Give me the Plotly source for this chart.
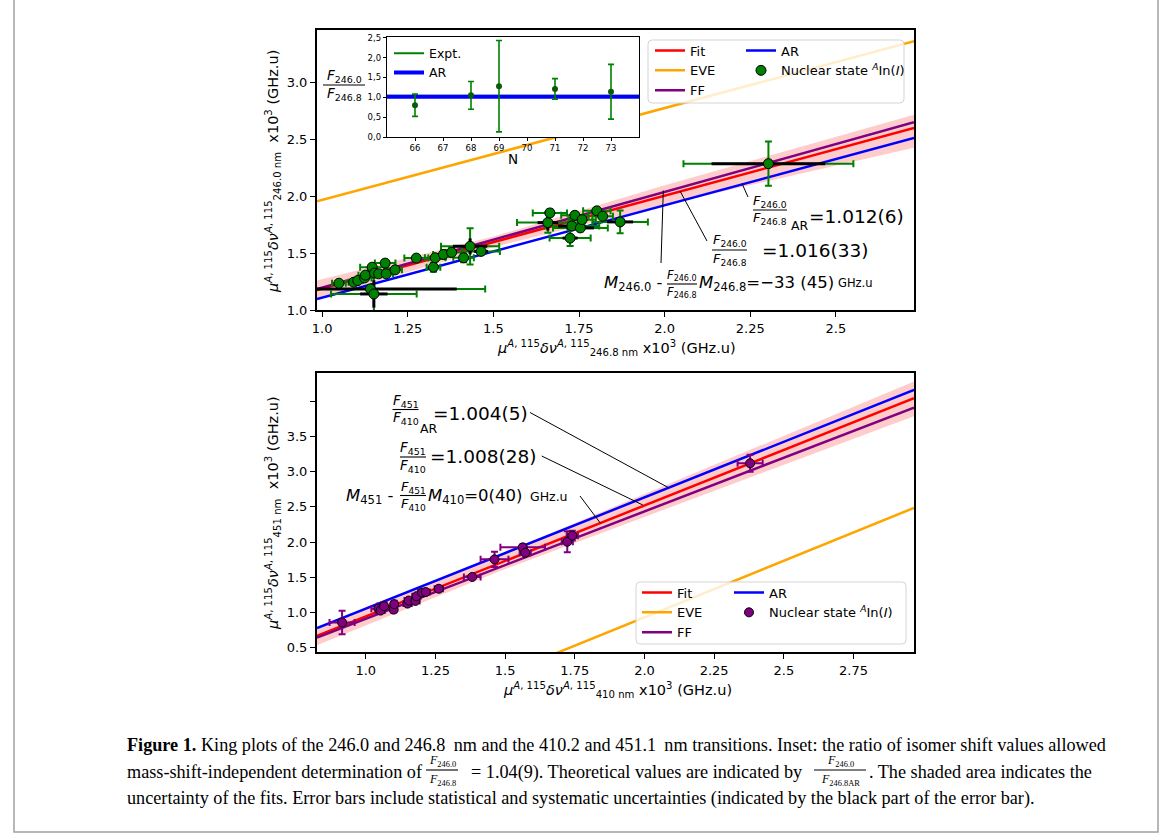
import plotly.graph_objects as go

W, H = 1171, 834
FONT = "DejaVu Sans"
SERIF = "Liberation Serif"

# ---------------- data: top panel (246.0 nm vs 246.8 nm) ----------------
top_x = [1.049, 1.092, 1.104, 1.124, 1.126, 1.146, 1.153, 1.165, 1.184, 1.187, 1.213,
         1.141, 1.151, 1.275, 1.325, 1.330, 1.354, 1.378, 1.413, 1.432, 1.464,
         1.659, 1.665, 1.724, 1.729, 1.738, 1.754, 1.759, 1.802, 1.819, 1.870, 2.303]
top_y = [1.235, 1.244, 1.259, 1.282, 1.306, 1.376, 1.324, 1.318, 1.412, 1.318, 1.353,
         1.185, 1.141, 1.456, 1.376, 1.459, 1.488, 1.506, 1.459, 1.559, 1.515,
         1.768, 1.853, 1.632, 1.738, 1.832, 1.721, 1.794, 1.871, 1.824, 1.774, 2.286]
top_xerr = [0.020, 0.015, 0.015, 0.020, 0.020, 0.035, 0.020, 0.020, 0.030, 0.020, 0.020,
            0.335, 0.125, 0.035, 0.020, 0.030, 0.030, 0.030, 0.030, 0.085, 0.055,
            0.090, 0.050, 0.060, 0.080, 0.040, 0.080, 0.040, 0.040, 0.030, 0.081, 0.248]
top_xerr_sys = [0.006, 0.005, 0.005, 0.006, 0.006, 0.010, 0.006, 0.006, 0.010, 0.006, 0.006,
                0.252, 0.040, 0.010, 0.006, 0.010, 0.010, 0.010, 0.010, 0.050, 0.020,
                0.030, 0.015, 0.022, 0.040, 0.015, 0.040, 0.015, 0.015, 0.010, 0.038, 0.166]
top_yerr = [0.020, 0.020, 0.020, 0.025, 0.020, 0.025, 0.020, 0.020, 0.025, 0.020, 0.020,
            0.030, 0.150, 0.020, 0.040, 0.030, 0.040, 0.040, 0.040, 0.160, 0.030,
            0.090, 0.030, 0.070, 0.030, 0.030, 0.030, 0.030, 0.020, 0.020, 0.100, 0.195]
top_yerr_sys = [0.008, 0.008, 0.008, 0.010, 0.008, 0.010, 0.008, 0.008, 0.010, 0.008, 0.008,
                0.015, 0.120, 0.008, 0.015, 0.010, 0.015, 0.015, 0.015, 0.070, 0.010,
                0.070, 0.010, 0.020, 0.010, 0.010, 0.010, 0.010, 0.008, 0.008, 0.030, 0.030]

top_line_x = [0.985, 2.728]
top_fit_y = [1.176, 2.599]
top_eve_y = [1.954, 3.362]
top_ff_y = [1.185, 2.649]
top_ar_y = [1.097, 2.511]
top_band_x = [0.985, 1.5, 2.0, 2.728]
top_band_lo = [1.100, 1.552, 1.925, 2.425]
top_band_hi = [1.260, 1.645, 2.095, 2.715]

# ---------------- data: inset ----------------
inset_N = [66, 68, 69, 71, 73]
inset_ratio = [0.80, 1.05, 1.28, 1.21, 1.14]
inset_err = [0.28, 0.35, 1.15, 0.26, 0.69]
inset_line_N = [65, 74]
inset_expt = [1.04, 1.04]
inset_ar = [1.012, 1.012]

# ---------------- data: bottom panel (451 nm vs 410 nm) ----------------
bot_x = [0.915, 1.045, 1.053, 1.066, 1.100, 1.102, 1.150, 1.154, 1.178, 1.182,
         1.202, 1.215, 1.262, 1.382, 1.462, 1.563, 1.572, 1.723, 1.741, 2.379]
bot_y = [0.855, 1.052, 1.024, 1.088, 1.038, 1.116, 1.124, 1.167, 1.162, 1.229,
         1.280, 1.288, 1.335, 1.503, 1.753, 1.924, 1.848, 2.004, 2.090, 3.120]
bot_xerr = [0.045, 0.025, 0.015, 0.025, 0.010, 0.010, 0.015, 0.015, 0.015, 0.015,
            0.015, 0.015, 0.015, 0.030, 0.050, 0.080, 0.020, 0.020, 0.020, 0.045]
bot_yerr = [0.166, 0.030, 0.030, 0.060, 0.040, 0.050, 0.030, 0.030, 0.030, 0.030,
            0.030, 0.030, 0.030, 0.030, 0.110, 0.040, 0.030, 0.150, 0.070, 0.120]

bot_line_x = [0.825, 2.967]
bot_fit_y = [0.665, 4.047]
bot_eve_y = [-0.965, 2.486]
bot_ff_y = [0.640, 3.913]
bot_ar_y = [0.775, 4.166]
bot_band_x = [0.825, 1.5, 2.967]
bot_band_lo = [0.530, 1.615, 3.790]
bot_band_hi = [0.765, 1.855, 4.285]

top_xticks = [1.0, 1.25, 1.5, 1.75, 2.0, 2.25, 2.5]
top_xtick_text = ["1.0", "1.25", "1.5", "1.75", "2.0", "2.25", "2.5"]
top_yticks = [1.0, 1.5, 2.0, 2.5, 3.0]
top_ytick_text = ["1.0", "1.5", "2.0", "2.5", "3.0"]
bot_xticks = [1.0, 1.25, 1.5, 1.75, 2.0, 2.25, 2.5, 2.75]
bot_xtick_text = ["1.0", "1.25", "1.5", "1.75", "2.0", "2.25", "2.5", "2.75"]
bot_yticks = [0.5, 1.0, 1.5, 2.0, 2.5, 3.0, 3.5, 4.0]
bot_ytick_text = ["0.5", "1.0", "1.5", "2.0", "2.5", "3.0", "3.5", ""]
inset_xticks = [66, 67, 68, 69, 70, 71, 72, 73]
inset_xtick_text = ["66", "67", "68", "69", "70", "71", "72", "73"]
inset_yticks = [0.0, 0.5, 1.0, 1.5, 2.0, 2.5]
inset_ytick_text = ["0,0", "0,5", "1,0", "1,5", "2,0", "2,5"]

RED, BLUE, ORANGE, PURPLE, GREEN = "#ff0000", "#0000ff", "#ffa500", "#800080", "#008000"
BAND = "rgba(255,0,0,0.2)"


def X(px):
    return px / W


def Y(py):
    return 1 - py / H


fig = go.Figure()

# ---------- top panel ----------
fig.add_trace(go.Scatter(x=top_band_x, y=top_band_lo, mode="lines", line=dict(width=0, color="rgba(0,0,0,0)"),
                         showlegend=False, hoverinfo="skip", xaxis="x", yaxis="y"))
fig.add_trace(go.Scatter(x=top_band_x, y=top_band_hi, mode="lines", line=dict(width=0, color="rgba(0,0,0,0)"),
                         fill="tonexty", fillcolor=BAND, showlegend=False, hoverinfo="skip", xaxis="x", yaxis="y"))
fig.add_trace(go.Scatter(x=top_line_x, y=top_fit_y, mode="lines", name="Fit", line=dict(color=RED, width=2.5),
                         legend="legend", xaxis="x", yaxis="y"))
fig.add_trace(go.Scatter(x=top_line_x, y=top_eve_y, mode="lines", name="EVE", line=dict(color=ORANGE, width=2.5),
                         legend="legend", xaxis="x", yaxis="y"))
fig.add_trace(go.Scatter(x=top_line_x, y=top_ff_y, mode="lines", name="FF", line=dict(color=PURPLE, width=2.5),
                         legend="legend", xaxis="x", yaxis="y"))
fig.add_trace(go.Scatter(x=top_line_x, y=top_ar_y, mode="lines", name="AR", line=dict(color=BLUE, width=2.5),
                         legend="legend2", xaxis="x", yaxis="y"))
fig.add_trace(go.Scatter(x=top_x, y=top_y, mode="markers", marker=dict(size=2, color="rgba(0,0,0,0)"),
                         error_x=dict(type="data", array=top_xerr, color=GREEN, thickness=2, width=3.5),
                         error_y=dict(type="data", array=top_yerr, color=GREEN, thickness=2, width=3.5),
                         showlegend=False, hoverinfo="skip", xaxis="x", yaxis="y"))
fig.add_trace(go.Scatter(x=top_x, y=top_y, mode="markers", marker=dict(size=2, color="rgba(0,0,0,0)"),
                         error_x=dict(type="data", array=top_xerr_sys, color="black", thickness=3, width=0),
                         error_y=dict(type="data", array=top_yerr_sys, color="black", thickness=3, width=0),
                         showlegend=False, hoverinfo="skip", xaxis="x", yaxis="y"))
fig.add_trace(go.Scatter(x=top_x, y=top_y, mode="markers", name="Nuclear state <sup><i>A</i></sup>In(<i>I</i>)",
                         marker=dict(size=10, color=GREEN, line=dict(color="black", width=1)),
                         legend="legend2", xaxis="x", yaxis="y"))

# ---------- inset ----------
fig.add_trace(go.Scatter(x=inset_line_N, y=inset_expt, mode="lines", name="Expt.", line=dict(color=GREEN, width=2),
                         legend="legend3", xaxis="x3", yaxis="y3"))
fig.add_trace(go.Scatter(x=inset_line_N, y=inset_ar, mode="lines", name="AR", line=dict(color=BLUE, width=4),
                         legend="legend3", xaxis="x3", yaxis="y3"))
fig.add_trace(go.Scatter(x=inset_N, y=inset_ratio, mode="markers", marker=dict(size=6, color="#0b5a0b"),
                         error_y=dict(type="data", array=inset_err, color=GREEN, thickness=1.6, width=3),
                         showlegend=False, xaxis="x3", yaxis="y3"))

# ---------- bottom panel ----------
fig.add_trace(go.Scatter(x=bot_band_x, y=bot_band_lo, mode="lines", line=dict(width=0, color="rgba(0,0,0,0)"),
                         showlegend=False, hoverinfo="skip", xaxis="x2", yaxis="y2"))
fig.add_trace(go.Scatter(x=bot_band_x, y=bot_band_hi, mode="lines", line=dict(width=0, color="rgba(0,0,0,0)"),
                         fill="tonexty", fillcolor=BAND, showlegend=False, hoverinfo="skip", xaxis="x2", yaxis="y2"))
fig.add_trace(go.Scatter(x=bot_line_x, y=bot_fit_y, mode="lines", name="Fit", line=dict(color=RED, width=2.5),
                         legend="legend4", xaxis="x2", yaxis="y2"))
fig.add_trace(go.Scatter(x=bot_line_x, y=bot_eve_y, mode="lines", name="EVE", line=dict(color=ORANGE, width=2.5),
                         legend="legend4", xaxis="x2", yaxis="y2"))
fig.add_trace(go.Scatter(x=bot_line_x, y=bot_ff_y, mode="lines", name="FF", line=dict(color=PURPLE, width=2.5),
                         legend="legend4", xaxis="x2", yaxis="y2"))
fig.add_trace(go.Scatter(x=bot_line_x, y=bot_ar_y, mode="lines", name="AR", line=dict(color=BLUE, width=2.5),
                         legend="legend5", xaxis="x2", yaxis="y2"))
fig.add_trace(go.Scatter(x=bot_x, y=bot_y, mode="markers", name="Nuclear state <sup><i>A</i></sup>In(<i>I</i>)",
                         marker=dict(size=9, color=PURPLE, line=dict(color="black", width=1)),
                         error_x=dict(type="data", array=bot_xerr, color=PURPLE, thickness=2, width=3.5),
                         error_y=dict(type="data", array=bot_yerr, color=PURPLE, thickness=2, width=3.5),
                         legend="legend5", xaxis="x2", yaxis="y2"))


# ---------- axes ----------
def axis(domain, rng, tickvals, ticktext, anchor, size=13, lw=2, ticklen=5):
    return dict(domain=domain, range=rng, tickvals=tickvals, ticktext=ticktext, anchor=anchor,
                showline=True, linecolor="black", linewidth=lw, mirror=True,
                ticks="outside", ticklen=ticklen, tickwidth=1.3, tickcolor="black",
                showgrid=False, zeroline=False, automargin=False,
                tickfont=dict(family=FONT, size=size, color="black"))


def leg(x, y, size=13):
    return dict(x=X(x), y=Y(y), xanchor="left", yanchor="top", bgcolor="rgba(0,0,0,0)",
                borderwidth=0, traceorder="normal", font=dict(family=FONT, size=size, color="black"))


fig.update_layout(
    template="none",
    width=W, height=H, margin=dict(l=0, r=0, t=0, b=0),
    paper_bgcolor="white", plot_bgcolor="white",
    font=dict(family=FONT, size=13, color="black"),
    xaxis=axis([X(317), X(914)], [0.985, 2.728], top_xticks, top_xtick_text, "y"),
    yaxis=axis([Y(310), Y(30)], [1.0, 3.46], top_yticks, top_ytick_text, "x"),
    xaxis2=axis([X(317), X(914)], [0.825, 2.967], bot_xticks, bot_xtick_text, "y2"),
    yaxis2=axis([Y(652), Y(373)], [0.435, 4.405], bot_yticks, bot_ytick_text, "x2"),
    xaxis3=axis([X(387), X(639)], [65, 74], inset_xticks, inset_xtick_text, "y3", size=8.5, lw=1.3, ticklen=3),
    yaxis3=axis([Y(137), Y(37)], [0, 2.52], inset_yticks, inset_ytick_text, "x3", size=8.5, lw=1.3, ticklen=3),
    showlegend=True,
    legend=leg(650, 35.5),
    legend2=leg(741, 35.5),
    legend3=leg(389, 38.5, 12.5),
    legend4=leg(637, 577.5),
    legend5=leg(729, 577.5),
)

shapes = []
annotations = []


def ann(x, y, text, size, xanchor="left", yanchor="middle", family=FONT, angle=0):
    annotations.append(dict(x=X(x), y=Y(y), xref="paper", yref="paper", text=text, showarrow=False,
                            xanchor=xanchor, yanchor=yanchor, textangle=angle,
                            font=dict(family=family, size=size, color="black")))


def seg(x0, y0, x1, y1, width=1.0, color="black"):
    shapes.append(dict(type="line", xref="paper", yref="paper", x0=X(x0), y0=Y(y0), x1=X(x1), y1=Y(y1),
                       line=dict(color=color, width=width), layer="above"))


def frac(xc, ybar, num, den, size, hw, dy, family=FONT):
    ann(xc, ybar - dy, num, size, xanchor="center", family=family)
    ann(xc, ybar + dy, den, size, xanchor="center", family=family)
    seg(xc - hw, ybar, xc + hw, ybar, width=1.1)


def rrect(x0, y0, x1, y1, r):
    p = (f"M {X(x0 + r)},{Y(y0)} L {X(x1 - r)},{Y(y0)} Q {X(x1)},{Y(y0)} {X(x1)},{Y(y0 + r)} "
         f"L {X(x1)},{Y(y1 - r)} Q {X(x1)},{Y(y1)} {X(x1 - r)},{Y(y1)} "
         f"L {X(x0 + r)},{Y(y1)} Q {X(x0)},{Y(y1)} {X(x0)},{Y(y1 - r)} "
         f"L {X(x0)},{Y(y0 + r)} Q {X(x0)},{Y(y0)} {X(x0 + r)},{Y(y0)} Z")
    shapes.append(dict(type="path", xref="paper", yref="paper", path=p,
                       fillcolor="rgba(255,255,255,0.8)", line=dict(color="#d4d4d4", width=1), layer="above"))


# legend frames
rrect(648, 40, 904, 103, 4)
rrect(636, 582, 906, 644, 4)

# axis titles
TS = 14.5
ann(616, 348, "<i>μ</i><sup><i>A</i>, 115</sup><i>δν</i><sup><i>A</i>, 115</sup><sub>246.8 nm</sub> x10<sup>3</sup> (GHz.u)",
    TS, xanchor="center")
ann(273, 172, "<i>μ</i><sup><i>A</i>, 115</sup><i>δν</i><sup><i>A</i>, 115</sup><sub>246.0 nm</sub>  x10<sup>3</sup> (GHz.u)",
    TS, xanchor="center", angle=-90)
ann(617, 690, "<i>μ</i><sup><i>A</i>, 115</sup><i>δν</i><sup><i>A</i>, 115</sup><sub>410 nm</sub> x10<sup>3</sup> (GHz.u)",
    TS, xanchor="center")
ann(273, 513, "<i>μ</i><sup><i>A</i>, 115</sup><i>δν</i><sup><i>A</i>, 115</sup><sub>451 nm</sub>  x10<sup>3</sup> (GHz.u)",
    TS, xanchor="center", angle=-90)

F0 = "<i>F</i><sub>246.0</sub>"
F8 = "<i>F</i><sub>246.8</sub>"
F451 = "<i>F</i><sub>451</sub>"
F410 = "<i>F</i><sub>410</sub>"

# inset labels
frac(344, 85, F0, F8, 13.5, 21, 9)
ann(513, 159, "N", 13.5, xanchor="center")

# top annotations
frac(770, 210, F0, F8, 13, 17, 9)
ann(789, 225, "AR", 12.5)
ann(807, 217, "=1.012(6)", 18.5)
frac(729.5, 250, F0, F8, 13, 17.5, 9.5)
ann(760, 250, "=1.016(33)", 18.5)
ann(665, 283, "<i>M</i><sub>246.0</sub> -", 16.5, xanchor="right")
frac(682, 284, F0, F8, 11.5, 15, 8)
ann(697, 283, "<i>M</i><sub>246.8</sub>=−33 (45)", 16.5)
ann(836, 283, "GHz.u", 11.5)
seg(748, 197, 742, 183.5)
seg(707, 241, 680, 191)
seg(661, 263, 663.3, 190.5)

# bottom annotations
frac(405.5, 409.5, F451, F410, 13.5, 13, 8.5)
ann(418, 428, "AR", 12.5)
ann(431, 413, "=1.004(5)", 18.5)
frac(413, 457, F451, F410, 13.5, 13, 9)
ann(428, 456.5, "=1.008(28)", 18.5)
ann(396, 497, "<i>M</i><sub>451</sub> -", 16.5, xanchor="right")
frac(413, 495.5, F451, F410, 13, 13, 8.5)
ann(426, 497, "<i>M</i><sub>410</sub>=0(40)", 16.5)
ann(528, 496, "GHz.u", 12.5)
seg(530, 412.5, 668.2, 487.5)
seg(541.7, 456, 642.8, 505)
seg(580, 496, 600.5, 523.3)

# caption
CAP = 18.2
ann(125, 745, "<b>Figure 1.</b> King plots of the 246.0 and 246.8 \u2009nm and the 410.2 and 451.1 \u2009nm transitions. "
    "Inset: the ratio of isomer shift values allowed", CAP, family=SERIF)
ann(125, 772, "mass-shift-independent determination of", CAP, family=SERIF)
frac(442, 770, "<i>F</i><sub>246.0</sub>", "<i>F</i><sub>246.8</sub>", 12, 16, 9.5, family=SERIF)
ann(469, 772, "= 1.04(9). Theoretical values are indicated by", CAP, family=SERIF)
frac(840, 770, "<i>F</i><sub>246.0</sub>", "<i>F</i><sub>246.8AR</sub>", 12, 26, 9.5, family=SERIF)
ann(867, 772, ". The shaded area indicates the", CAP, family=SERIF)
ann(125, 798, "uncertainty of the fits. Error bars include statistical and systematic uncertainties "
    "(indicated by the black part of the error bar).", CAP, family=SERIF)

# outer frame around figure and caption
shapes.append(dict(type="rect", xref="paper", yref="paper", x0=X(14), y0=Y(832), x1=X(1158), y1=Y(-5),
                   line=dict(color="#a0a0a0", width=1.5), fillcolor="rgba(0,0,0,0)", layer="above"))

fig.update_layout(shapes=shapes, annotations=annotations)

fig.write_html("out.html", config={"displayModeBar": False},
               post_script="document.body.style.margin='0';")
